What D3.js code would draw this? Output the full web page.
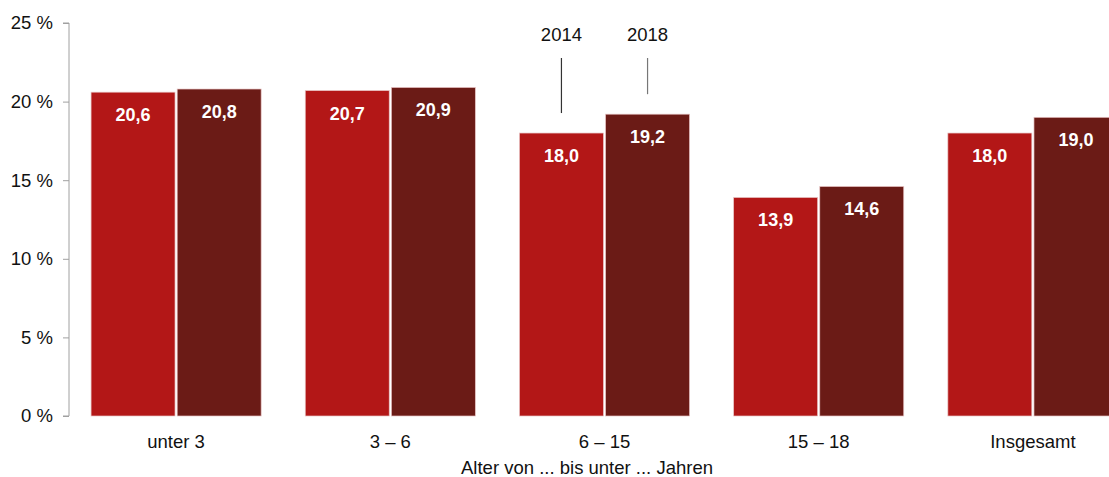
<!DOCTYPE html>
<html>
<head>
<meta charset="utf-8">
<script src="https://cdn.jsdelivr.net/npm/d3@7"></script>
<style>
body { margin: 0; background: #fff; overflow: hidden; }
text { font-family: "Liberation Sans", Arial, sans-serif; }
</style>
</head>
<body>
<script>
// data
var categories = ["unter 3", "3 – 6", "6 – 15", "15 – 18", "Insgesamt"];
var years = ["2014", "2018"];
var values2014 = [20.6, 20.7, 18.0, 13.9, 18.0];
var values2018 = [20.8, 20.9, 19.2, 14.6, 19.0];
var yTicks = [0, 5, 10, 15, 20, 25];

var colors = {"2014": "#b31717", "2018": "#6b1b16"};

// dimensions
var width = 1109, height = 477;
var margin = {left: 69, top: 23, bottom: 61};
var plotRight = 1140; // chart is wider than the window, last bar is cut off
var fontSize = "18.5px";

var svg = d3.select("body").append("svg")
    .attr("width", width)
    .attr("height", height);

var x0 = d3.scaleBand()
    .domain(categories)
    .range([margin.left, plotRight])
    .paddingInner(0.206)
    .paddingOuter(0.103);

var x1 = d3.scaleBand()
    .domain(years)
    .range([0, x0.bandwidth()])
    .paddingInner(0.025);

var y = d3.scaleLinear()
    .domain([0, 25])
    .range([height - margin.bottom, margin.top]);

var fmt = function(v) { return d3.format(".1f")(v).replace(".", ","); };

var rows = categories.map(function(c, i) {
    return {cat: c, vals: [{year: "2014", v: values2014[i]}, {year: "2018", v: values2018[i]}]};
});

// bars
var groups = svg.selectAll("g.group")
    .data(rows)
    .enter().append("g")
    .attr("class", "group")
    .attr("transform", function(d) { return "translate(" + x0(d.cat) + ",0)"; });

groups.selectAll("rect")
    .data(function(d) { return d.vals; })
    .enter().append("rect")
    .attr("x", function(d) { return x1(d.year); })
    .attr("y", function(d) { return y(d.v); })
    .attr("width", x1.bandwidth())
    .attr("height", function(d) { return y(0) - y(d.v); })
    .attr("fill", function(d) { return colors[d.year]; })
    .attr("stroke", "#e8c4c4")
    .attr("stroke-width", 0.7);

// value labels
groups.selectAll("text.val")
    .data(function(d) { return d.vals; })
    .enter().append("text")
    .attr("class", "val")
    .attr("x", function(d) { return x1(d.year) + x1.bandwidth() / 2; })
    .attr("y", function(d) { return y(d.v) + 29; })
    .attr("text-anchor", "middle")
    .attr("fill", "#fff")
    .style("font-size", "18px")
    .style("font-weight", "bold")
    .text(function(d) { return fmt(d.v); });

// y axis
var yAxis = svg.append("g")
    .attr("transform", "translate(" + margin.left + ",0)")
    .call(d3.axisLeft(y)
        .tickValues(yTicks)
        .tickSize(6)
        .tickPadding(10)
        .tickFormat(function(d) { return d + " %"; }));

yAxis.select(".domain").attr("stroke", "#a0a0a0").attr("d", "M-6," + y(25) + "H0V" + y(0) + "H-6");
yAxis.selectAll(".tick line").attr("stroke", "#a0a0a0");
yAxis.selectAll(".tick text")
    .attr("fill", "#111")
    .style("font-size", fontSize)
    .style("font-family", "Liberation Sans, Arial, sans-serif");

// x category labels
svg.selectAll("text.cat")
    .data(categories)
    .enter().append("text")
    .attr("class", "cat")
    .attr("x", function(d) { return x0(d) + x0.bandwidth() / 2; })
    .attr("y", 448)
    .attr("text-anchor", "middle")
    .attr("fill", "#111")
    .style("font-size", fontSize)
    .text(function(d) { return d; });

// x axis title
svg.append("text")
    .attr("x", 587)
    .attr("y", 474)
    .attr("text-anchor", "middle")
    .attr("fill", "#111")
    .style("font-size", fontSize)
    .text("Alter von ... bis unter ... Jahren");

// year annotations above 6 – 15
var annoCat = "6 – 15";
var annoIdx = categories.indexOf(annoCat);
var anno = [
    {year: "2014", v: values2014[annoIdx], stroke: "#333"},
    {year: "2018", v: values2018[annoIdx], stroke: "#777"}
];
anno.forEach(function(a) {
    var cx = x0(annoCat) + x1(a.year) + x1.bandwidth() / 2;
    svg.append("text")
        .attr("x", cx)
        .attr("y", 41)
        .attr("text-anchor", "middle")
        .attr("fill", "#111")
        .style("font-size", fontSize)
        .text(a.year);
    svg.append("line")
        .attr("x1", cx).attr("x2", cx)
        .attr("y1", 58)
        .attr("y2", y(a.v) - 20)
        .attr("stroke", a.stroke)
        .attr("stroke-width", 1.2);
});
</script>
</body>
</html>
